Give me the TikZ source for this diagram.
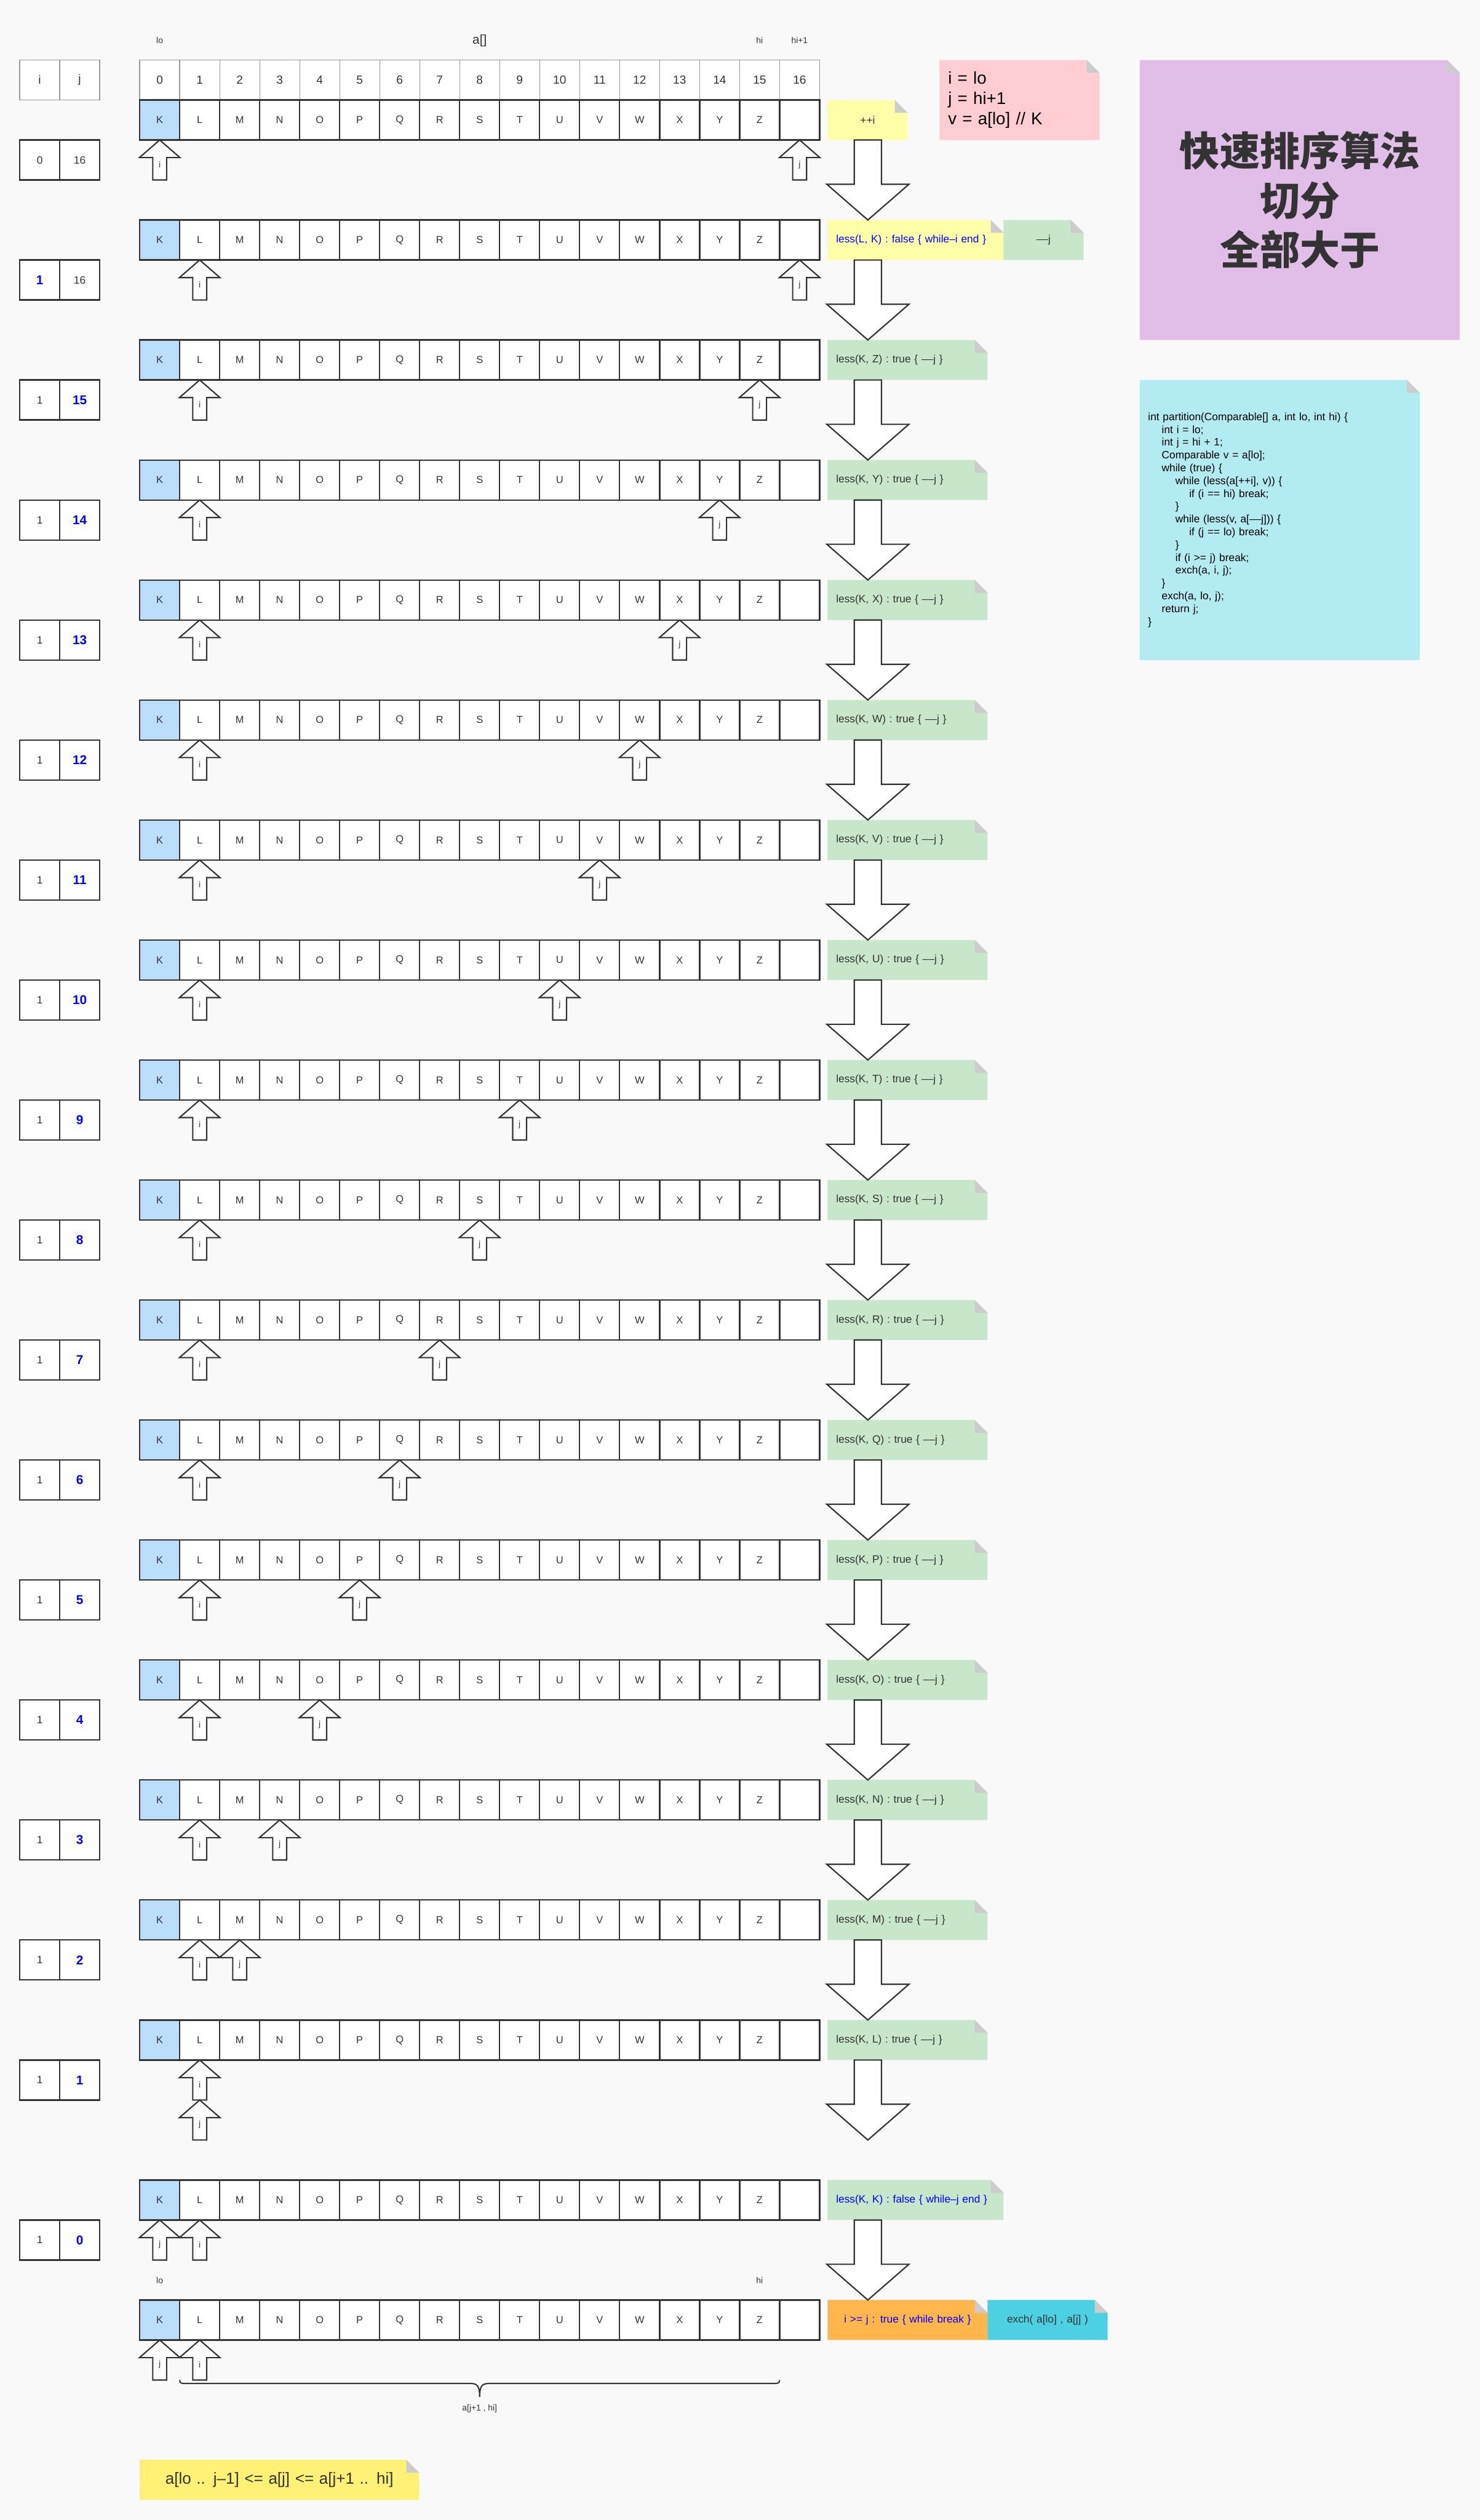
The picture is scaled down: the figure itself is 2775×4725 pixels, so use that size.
\documentclass[tikz,border=0pt]{standalone}
\usepackage{fontspec}
\setmainfont{Liberation Sans}
\newfontfamily\cjk{Noto Sans CJK SC}
\usetikzlibrary{positioning}

\definecolor{bg}{HTML}{F9F9F9}
\definecolor{ink}{HTML}{333333}
\definecolor{rule}{HTML}{999999}
\definecolor{pivot}{HTML}{BBDEFB}
\definecolor{ny}{HTML}{FFFFAA}
\definecolor{ng}{HTML}{C8E6C9}
\definecolor{npk}{HTML}{FFCDD2}
\definecolor{npu}{HTML}{E1BEE7}
\definecolor{ncy}{HTML}{B2EBF2}
\definecolor{nor}{HTML}{FFB74D}
\definecolor{ncd}{HTML}{4DD0E1}
\definecolor{nyd}{HTML}{FFF176}
\definecolor{fold}{HTML}{CCCCCC}
\definecolor{hit}{HTML}{0000FF}

\newcommand{\sz}[2]{\fontsize{#1}{#2}\selectfont}
\newcommand{\hl}[1]{{\color{hit}\bfseries\sz{12}{14}#1}}
\newcommand{\mm}{\textendash\textendash}
\newcommand{\tb}{\hspace*{12.85pt}}

\begin{document}
\begin{tikzpicture}[
  x=0.5pt, y=-0.5pt,
  every node/.style={text=ink, inner sep=0pt, outer sep=0pt},
  cell/.style={draw=ink, line width=1.35pt, fill=white, minimum size=37.5pt,
               font=\sz{9.5}{11}},
  hcell/.style={draw=rule, line width=0.75pt, fill=white, minimum size=37.5pt,
                font=\sz{11}{13}},
  lbl/.style={font=\sz{8}{10}},
  note/.style={anchor=north west, minimum height=37.5pt, inner xsep=8pt,
               align=left, font=\sz{10}{12},
    path picture={
      \fill[#1] (path picture bounding box.south west)
        -- (path picture bounding box.north west)
        -- ([xshift=-12pt]path picture bounding box.north east)
        -- ([yshift=-12pt]path picture bounding box.north east)
        -- (path picture bounding box.south east) -- cycle;
      \fill[fold] ([xshift=-12pt]path picture bounding box.north east)
        -- ([xshift=-12pt,yshift=-12pt]path picture bounding box.north east)
        -- ([yshift=-12pt]path picture bounding box.north east) -- cycle;
    }},
  pics/ptr/.style={code={
    \draw[ink, fill=white, line width=1.25pt] (0,0) -- (38,33) -- (13,33)
      -- (13,75) -- (-13,75) -- (-13,33) -- (-38,33) -- cycle;
    \node[lbl] at (0,46) {#1};
  }},
  pics/flow/.style={code={
    \draw[ink, fill=white, line width=1.25pt] (-25.5,0) -- (25.5,0) -- (25.5,83)
      -- (77,83) -- (0,150) -- (-77,83) -- (-25.5,83) -- cycle;
  }}
]
  \useasboundingbox (0,0) rectangle (2775,4725);
  \fill[bg] (0,0) rectangle (2775,4725);

  % header: labels, indices, i/j
  \node[lbl] (lo) at (299.5,76) {lo};
  \node[font=\sz{12}{14}] (arr) at (899.5,76) {a[]};
  \node[lbl] (hi) at (1424.5,76) {hi};
  \node[lbl] (hip) at (1499.5,76) {hi+1};
  \foreach \n in {0,...,16}
    \node[hcell] (h\n) at ({299.5+75*\n},150) {\n};
  \node[hcell] (ih) at (74.5,150) {i};
  \node[hcell] (jh) at (149.5,150) {j};

  % the array, one row per step
  \foreach \k in {0,...,18}{
    \pgfmathsetmacro{\ry}{225+225*\k+75*(\k>16)}
    \node[cell, fill=pivot] (a\k-0) at (299.5,\ry) {K};
    \foreach \c [count=\n] in {L,M,N,O,P,Q,R,S,T,U,V,W,X,Y,Z,{}}
      \node[cell] (a\k-\n) at ({299.5+75*\n},\ry) {\c};
  }

  % counters and pointers
  \foreach \k/\iv/\jv/\ip/\jp/\js in {0/0/16/0/16/0, 1/\hl{1}/16/1/16/0,
      2/1/\hl{15}/1/15/0, 3/1/\hl{14}/1/14/0, 4/1/\hl{13}/1/13/0,
      5/1/\hl{12}/1/12/0, 6/1/\hl{11}/1/11/0, 7/1/\hl{10}/1/10/0,
      8/1/\hl{9}/1/9/0, 9/1/\hl{8}/1/8/0, 10/1/\hl{7}/1/7/0,
      11/1/\hl{6}/1/6/0, 12/1/\hl{5}/1/5/0, 13/1/\hl{4}/1/4/0,
      14/1/\hl{3}/1/3/0, 15/1/\hl{2}/1/2/0, 16/1/\hl{1}/1/1/37.5,
      17/1/\hl{0}/1/0/0}{
    \pgfmathsetmacro{\ry}{300+225*\k+75*(\k>16)}
    \node[cell, font=\sz{10}{12}] (i\k) at (74.5,\ry) {\iv};
    \node[cell, font=\sz{10}{12}] (j\k) at (149.5,\ry) {\jv};
    \pic at (a\k-\ip.south) {ptr=i};
    \pic at ([yshift=-\js pt]a\k-\jp.south) {ptr=j};
  }
  \pic at (a18-0.south) {ptr=j};
  \pic at (a18-1.south) {ptr=i};
  \node[lbl] (lo2) at (299.5,4276) {lo};
  \node[lbl] (hi2) at (1424.5,4276) {hi};

  % brace under the right part
  \coordinate (bl) at ([yshift=-37.5pt]a18-1.south west);
  \coordinate (br) at ([yshift=-37.5pt]a18-16.south west);
  \draw[ink, line width=1.2pt] (bl) .. controls (337,4469) and (341,4469) .. (349,4469)
    -- (883,4469) .. controls (895,4469) and (899.5,4474) .. (899.5,4494)
    .. controls (899.5,4474) and (904,4469) .. (916,4469)
    -- (1450,4469) .. controls (1458,4469) and (1462,4469) .. (br);
  \node[lbl] (rng) at (899.5,4516) {a[j+1 , hi]};

  % step notes
  \node[note=ny, text width=59pt, align=center] (n0) at (1552,187.5) {++i};
  \node[note=ny, text width=149pt, text=hit] (n1) at (1552,412.5)
    {less(L, K) : false \{ while\textendash i end \}};
  \node[note=ng, text width=59pt, align=center, right=0pt of n1] (n1b) {\mm j};
  \foreach \k/\c in {2/Z,3/Y,4/X,5/W,6/V,7/U,8/T,9/S,10/R,11/Q,12/P,13/O,
      14/N,15/M,16/L}
    \node[note=ng, text width=134pt] (n\k) at (1552,{187.5+225*\k})
      {less(K, \c) : true \{ \mm j \}};
  \node[note=ng, text width=149pt, text=hit] (n17) at (1552,4087.5)
    {less(K, K) : false \{ while\textendash j end \}};
  \node[note=nor, text width=134pt, align=center, text=hit] (n18) at (1552,4312.5)
    {i >= j : true \{ while break \}};
  \node[note=ncd, text width=96.5pt, align=center, right=0pt of n18] (n18b)
    {exch( a[lo] , a[j] )};
  \foreach \k in {0,...,17}
    \pic at ([xshift=37.75pt]n\k.south west) {flow};

  % side notes
  \node[note=npk, text width=134pt, minimum height=75pt, font=\sz{16}{19},
        text=black] (init) at (1762,112.5) {i = lo\\ j = hi+1\\ v = a[lo] // K};
  \node[note=npu, text width=284pt, minimum height=262.5pt, align=center,
        font=\cjk\bfseries\sz{37.5}{46.5}] (title) at (2137.5,112.5)
    {快速排序算法\\切分\\全部大于};
  \node[note=ncy, text width=247pt, inner xsep=7.75pt, minimum height=262.5pt,
        text=black] (code) at (2137.5,712.5)
    {int partition(Comparable[] a, int lo, int hi) \{\\
     \tb int i = lo;\\
     \tb int j = hi + 1;\\
     \tb Comparable v = a[lo];\\
     \tb while (true) \{\\
     \tb\tb while (less(a[++i], v)) \{\\
     \tb\tb\tb if (i == hi) break;\\
     \tb\tb \}\\
     \tb\tb while (less(v, a[\mm j])) \{\\
     \tb\tb\tb if (j == lo) break;\\
     \tb\tb \}\\
     \tb\tb if (i >= j) break;\\
     \tb\tb exch(a, i, j);\\
     \tb \}\\
     \tb exch(a, lo, j);\\
     \tb return j;\\
     \}};
  \node[note=nyd, text width=246pt, align=center, font=\sz{15}{18}] (inv)
    at (262,4612) {a[lo .. j\textendash 1] <= a[j] <= a[j+1 .. hi]};
\end{tikzpicture}
\end{document}
